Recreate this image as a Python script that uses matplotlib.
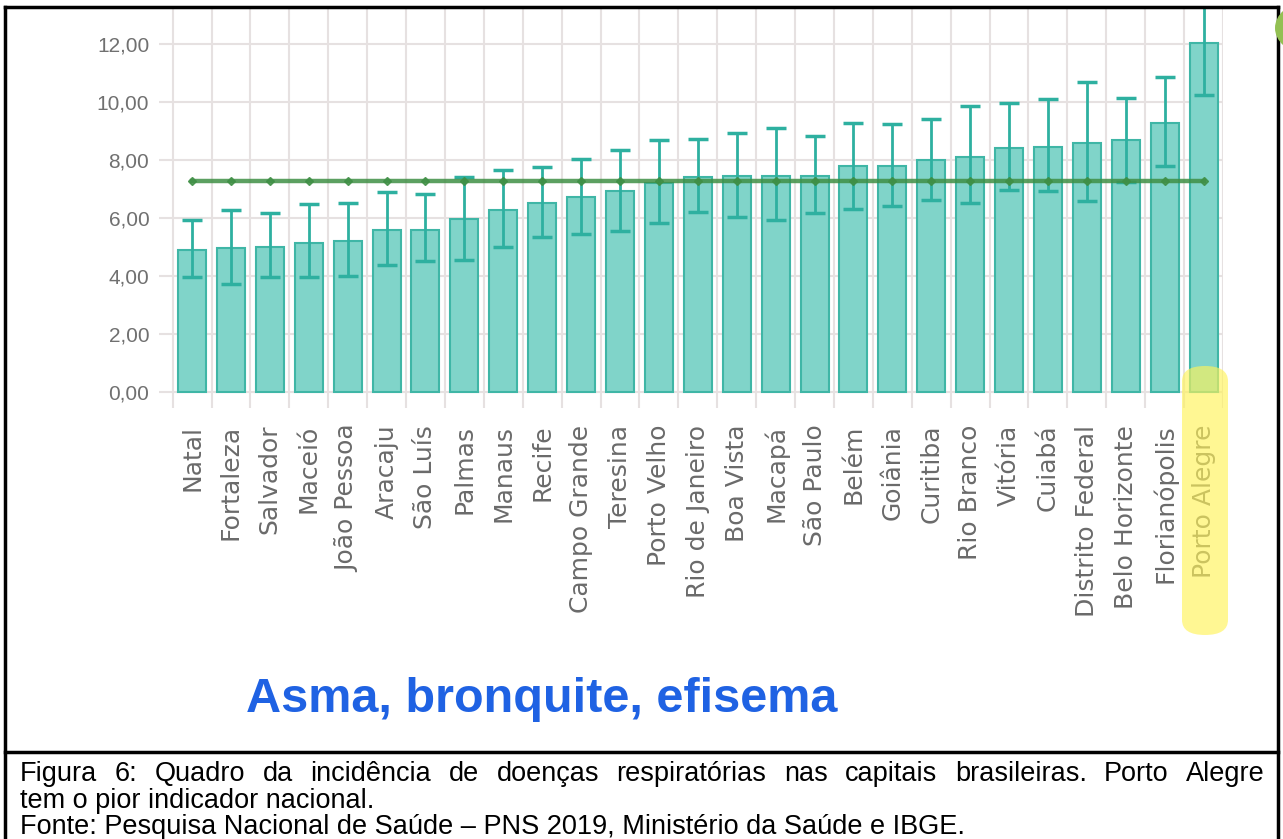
import matplotlib
matplotlib.use("Agg")
import matplotlib.pyplot as plt
import numpy as np
from matplotlib.lines import Line2D
from matplotlib.patches import FancyBboxPatch, Ellipse

# dados (PNS 2019)
cidades = ["Natal", "Fortaleza", "Salvador", "Maceió", "João Pessoa", "Aracaju",
           "São Luís", "Palmas", "Manaus", "Recife", "Campo Grande", "Teresina",
           "Porto Velho", "Rio de Janeiro", "Boa Vista", "Macapá", "São Paulo",
           "Belém", "Goiânia", "Curitiba", "Rio Branco", "Vitória", "Cuiabá",
           "Distrito Federal", "Belo Horizonte", "Florianópolis", "Porto Alegre"]
valores = [4.90, 4.95, 5.00, 5.14, 5.21, 5.59, 5.59, 5.96, 6.28, 6.52, 6.72, 6.93,
           7.21, 7.41, 7.45, 7.45, 7.45, 7.79, 7.79, 8.00, 8.10, 8.41, 8.45, 8.59,
           8.69, 9.28, 12.03]
lim_inf = [3.96, 3.72, 3.96, 3.96, 4.00, 4.38, 4.52, 4.55, 5.00, 5.34, 5.45, 5.55,
           5.83, 6.21, 6.03, 5.93, 6.17, 6.31, 6.41, 6.62, 6.52, 6.97, 6.93, 6.59,
           7.24, 7.79, 10.24]
lim_sup = [5.93, 6.28, 6.18, 6.48, 6.52, 6.90, 6.82, 7.41, 7.66, 7.76, 8.03, 8.34,
           8.69, 8.72, 8.93, 9.10, 8.83, 9.28, 9.24, 9.41, 9.86, 9.97, 10.10, 10.69,
           10.14, 10.86, 13.80]
media_nacional = 7.28
yticks = [0, 2, 4, 6, 8, 10, 12]

titulo = "Asma, bronquite, efisema"
legenda = ["Figura 6: Quadro da incidência de doenças respiratórias nas capitais "
           "brasileiras. Porto Alegre",
           "tem o pior indicador nacional.",
           "Fonte: Pesquisa Nacional de Saúde – PNS 2019, Ministério da Saúde e IBGE."]

W, H = 1283, 839
fig = plt.figure(figsize=(W / 100, H / 100), dpi=100)
fig.patch.set_facecolor("white")

def fx(px):
    return px / W

def fy(py):
    return 1 - py / H

ax = fig.add_axes([fx(159), fy(408), fx(1223) - fx(159), fy(8) - fy(408)])

x = np.arange(len(cidades))
v = np.array(valores)
err = [v - np.array(lim_inf), np.array(lim_sup) - v]

ax.bar(x, v, width=0.72, color="#80d4c9", edgecolor="#3fb6a6", linewidth=1.5, zorder=2)
ax.errorbar(x, v, yerr=err, fmt="none", ecolor="#2eb0a0", elinewidth=2,
            capsize=7, capthick=2.5, zorder=3)
ax.plot(x, [media_nacional] * len(x), color="#3f8f45", lw=3.2, alpha=0.85,
        marker="D", markersize=4, zorder=4)

ax.set_xlim(-0.85, 26.5)
ax.set_ylim(-0.55, 13.24)
ax.set_yticks(yticks)
ax.set_yticklabels([f"{t:.2f}".replace(".", ",") for t in yticks],
                   fontsize=15, color="#707070", family="Liberation Sans")
ax.set_xticks(x)
ax.set_xticklabels(cidades, rotation=90, fontsize=18, color="#6a6a6a",
                   family="DejaVu Sans", va="top")
ax.set_xticks(list(x - 0.5) + [26.5], minor=True)
ax.tick_params(axis="both", which="both", length=0)
ax.tick_params(axis="y", pad=7)
ax.tick_params(axis="x", pad=12)
ax.grid(axis="y", which="major", color="#e6e1e1", lw=1.5, zorder=0)
ax.grid(axis="x", which="minor", color="#e6e1e1", lw=1.5, zorder=0)
ax.grid(axis="x", which="major", visible=False)
for s in ax.spines.values():
    s.set_visible(False)

# realce amarelo em Porto Alegre
fig.patches.append(FancyBboxPatch((fx(1182), fy(635)), fx(1228) - fx(1182),
                                  fy(366) - fy(635),
                                  boxstyle="round,pad=0,rounding_size=0.018",
                                  transform=fig.transFigure, facecolor="#fff35a",
                                  edgecolor="none", alpha=0.65, zorder=10))
fig.patches.append(Ellipse((fx(1305), fy(28)), fx(60), 50 / H, transform=fig.transFigure,
                           facecolor="#93c053", edgecolor="none", zorder=10))

# título
fig.text(fx(542), fy(712), titulo, color="#1f62e3",
         fontsize=35, fontweight="bold", ha="center", va="baseline",
         family="Liberation Sans")

# molduras
lw = 2.5
for xs, ys in [((5, 1278), (7, 7)), ((5, 5), (7, 839)), ((1278, 1278), (7, 839)),
               ((5, 1278), (752, 752))]:
    fig.add_artist(Line2D([fx(xs[0]), fx(xs[1])], [fy(ys[0]), fy(ys[1])],
                          color="black", lw=lw, transform=fig.transFigure))

# legenda da figura (primeira linha justificada)
cap = dict(fontsize=19.5, color="black", family="Liberation Sans", ha="left",
           va="baseline")
renderer = fig.canvas.get_renderer()
palavras = legenda[0].split(" ")
objs = [fig.text(0, fy(781), p, **cap) for p in palavras]
larg = [o.get_window_extent(renderer).width for o in objs]
esp = (1265 - 20 - sum(larg)) / (len(palavras) - 1)
pos = 20
for o, w in zip(objs, larg):
    o.set_x(fx(pos))
    pos += w + esp
fig.text(fx(20), fy(808), legenda[1], **cap)
fig.text(fx(20), fy(834), legenda[2], **cap)

fig.savefig("out.png", dpi=100)
